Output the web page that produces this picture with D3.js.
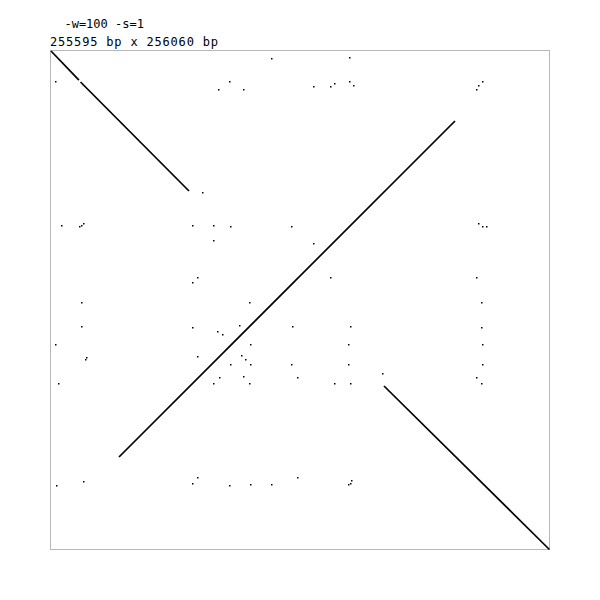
<!DOCTYPE html>
<html>
<head>
<meta charset="utf-8">
<script src="https://cdn.jsdelivr.net/npm/d3@7"></script>
<style>
  body { margin: 0; background: #fff; }
  .label { font-family: "DejaVu Sans Mono", monospace; font-size: 12px; fill: #000; }
</style>
</head>
<body>
<svg id="dotplot" width="600" height="600"></svg>
<script>
const lenX = 255595;
const lenY = 256060;
const params = "  -w=100 -s=1";

// matching runs (bp): start x, start y, end x, end y
const runX1 = [511, 15600, 35272, 170737];
const runY1 = [512, 16400, 208433, 172072];
const runX2 = [14800, 71055, 207032, 255300];
const runY2 = [15400, 72209, 36361, 255800];

// isolated word hits (bp)
const hitX = [113484, 3067, 92014, 86391, 98660, 78212, 6134, 14825, 15847, 17380, 72589, 83324, 92525, 123197, 83835,
  152846, 134443, 143644, 145689, 152846, 154891, 217767, 219300, 221345, 219300, 221345, 222879, 134443,
  75656, 73100, 15847, 101727, 15847, 72589, 96615, 85369, 87925, 123708, 3067, 102238, 17892, 18914, 75656, 98148, 100193, 102238, 92525, 123197, 86902, 98660, 126775, 4090, 83324, 101727,
  143644, 217767, 220834, 153357, 220323, 152335, 221345, 152335, 221345, 170226, 145689, 153357, 217767, 220834,
  3578, 17380, 73100, 75656, 92014, 102238, 113484, 126775, 152335, 153357, 154379];
const hitY = [4097, 15876, 15876, 19973, 19973, 73233, 90133, 90645, 89621, 88597, 90133, 90133, 90645, 90645, 97303,
  3585, 18948, 18948, 17412, 15876, 18436, 19973, 18436, 15876, 88597, 90645, 90645, 99351,
  116763, 118812, 129566, 129566, 141857, 142369, 141345, 143906, 145954, 141857, 151075, 151075, 158757, 157221, 156709, 156197, 158757, 160806, 160806, 160806, 167975, 167463, 167975, 171048, 171048, 171048,
  116763, 116763, 129566, 141857, 142369, 151075, 151075, 160806, 160806, 165415, 170536, 171048, 167975, 171048,
  223284, 220724, 221748, 219187, 223284, 222772, 222772, 219187, 222772, 221748, 220212];

const x = d3.scaleLinear().domain([0, lenX]).range([50, 550]);
const y = d3.scaleLinear().domain([0, lenY]).range([50, 550]);

const svg = d3.select('#dotplot');

svg.append('text')
  .attr('class', 'label')
  .attr('x', 50)
  .attr('y', 28)
  .attr('xml:space', 'preserve')
  .style('white-space', 'pre')
  .text(params);

svg.append('text')
  .attr('class', 'label')
  .attr('x', 50)
  .attr('y', 46)
  .attr('textLength', 168)
  .text(`${lenX} bp x ${lenY} bp`);

svg.append('rect')
  .attr('x', 50.5)
  .attr('y', 50.5)
  .attr('width', 499)
  .attr('height', 499)
  .attr('fill', 'none')
  .attr('stroke', '#b8b8b8');

svg.append('g')
  .selectAll('line')
  .data(d3.range(runX1.length))
  .enter()
  .append('line')
  .attr('x1', (i) => x(runX1[i]))
  .attr('y1', (i) => y(runY1[i]))
  .attr('x2', (i) => x(runX2[i]))
  .attr('y2', (i) => y(runY2[i]))
  .attr('stroke', '#000')
  .attr('stroke-width', 1.7);

svg.append('g')
  .selectAll('rect')
  .data(d3.range(hitX.length))
  .enter()
  .append('rect')
  .attr('x', (i) => Math.floor(x(hitX[i])))
  .attr('y', (i) => Math.floor(y(hitY[i])))
  .attr('width', 1.5)
  .attr('height', 1.5)
  .attr('fill', '#000');
</script>
</body>
</html>
